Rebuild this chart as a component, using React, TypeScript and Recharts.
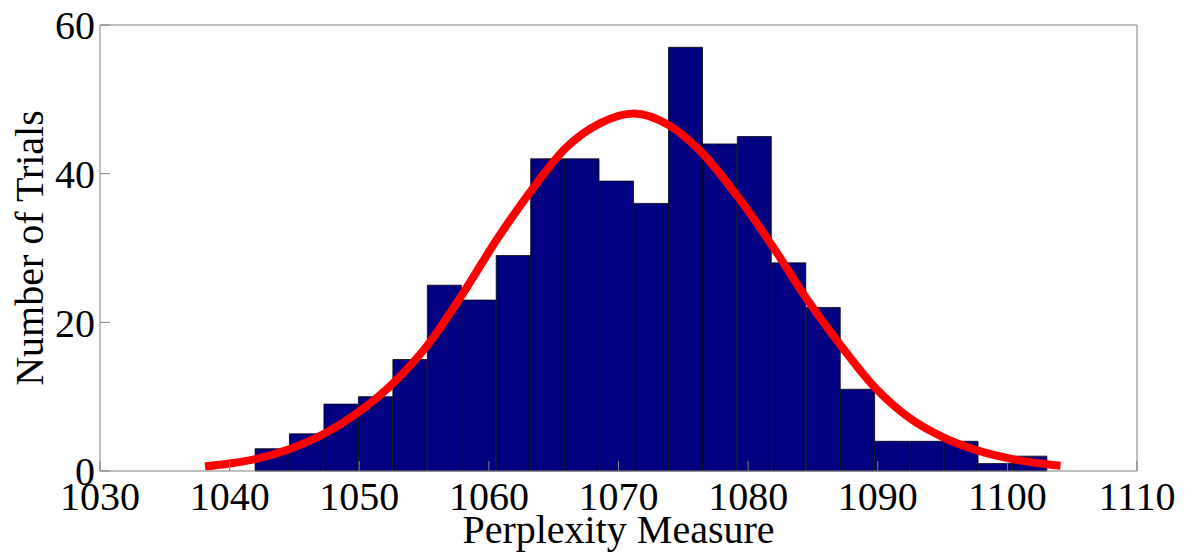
import { Bar, ComposedChart, Label, Line, XAxis, YAxis } from 'recharts';

const binCenters: number[] = [
  1043.29, 1045.94, 1048.6, 1051.26, 1053.92, 1056.58, 1059.23, 1061.89,
  1064.55, 1067.2, 1069.86, 1072.52, 1075.18, 1077.83, 1080.49, 1083.15,
  1085.81, 1088.46, 1091.12, 1093.78, 1096.44, 1099.09, 1101.75,
];
const binCounts: number[] = [
  3, 5, 9, 10, 15, 25, 23, 29, 42, 42, 39, 36, 57, 44, 45, 28, 22, 11, 4, 4, 4,
  1, 2,
];

// red fitted curve, sampled along the line in the picture
const curveX: number[] = [
  1038.1, 1040.0, 1042.0, 1044.7, 1047.3, 1050.0, 1052.6, 1055.3, 1058.0,
  1060.6, 1063.3, 1065.9, 1068.6, 1071.2, 1073.9, 1076.5, 1079.2, 1081.9,
  1084.5, 1087.1, 1089.8, 1092.4, 1095.1, 1097.8, 1100.4, 1103.0, 1104.1,
];
const curveY: number[] = [
  0.6, 1.0, 1.6, 3.0, 5.0, 8.0, 11.8, 17.0, 23.9, 31.1, 37.8, 43.4, 46.8, 48.1,
  46.5, 42.7, 36.9, 30.2, 23.2, 17.0, 11.2, 7.2, 4.5, 2.7, 1.6, 0.9, 0.7,
];

const xTicks: number[] = [1030, 1040, 1050, 1060, 1070, 1080, 1090, 1100, 1110];
const yTicks: number[] = [0, 20, 40, 60];

const bins = binCenters.map((center, i) => ({ center, count: binCounts[i] }));
const curve = curveX.map((x, i) => ({ x, y: curveY[i] }));

const FONT = '"Liberation Serif", "Times New Roman", serif';
const AXIS_COLOR = '#808080';
const tickStyle = { fontFamily: FONT, fontSize: 40, fill: '#000' };
const noLabel = () => '';

function YTitle({ viewBox }: any) {
  const cx = viewBox.x + 43;
  const cy = viewBox.y + viewBox.height / 2;
  return (
    <text
      x={cx}
      y={cy}
      transform={`rotate(-90 ${cx} ${cy})`}
      textAnchor="middle"
      fontFamily={FONT}
      fontSize={40}
      fill="#000"
    >
      Number of Trials
    </text>
  );
}

export default function App() {
  return (
    <div style={{ position: 'absolute', left: 0, top: 0, background: '#fff' }}>
      <ComposedChart
        width={1195}
        height={556}
        data={bins}
        margin={{ top: 0, right: 0, bottom: 0, left: 0 }}
        barCategoryGap={0}
        barGap={0}
      >
        <XAxis
          xAxisId="bins"
          dataKey="center"
          type="number"
          domain={[1030, 1110]}
          ticks={xTicks}
          interval={0}
          height={85}
          tickSize={-10}
          tickMargin={21}
          stroke={AXIS_COLOR}
          tick={tickStyle}
          allowDataOverflow
        >
          <Label
            value="Perplexity Measure"
            position="insideBottom"
            offset={13}
            fontFamily={FONT}
            fontSize={40}
            fill="#000"
          />
        </XAxis>
        <XAxis
          xAxisId="curve"
          dataKey="x"
          type="number"
          domain={[1030, 1110]}
          allowDataOverflow
          hide
        />
        <XAxis
          xAxisId="top"
          orientation="top"
          type="number"
          domain={[1030, 1110]}
          ticks={xTicks}
          interval={0}
          height={25}
          tickSize={-10}
          tickFormatter={noLabel}
          stroke={AXIS_COLOR}
        />
        <YAxis
          yAxisId="left"
          type="number"
          domain={[0, 60]}
          ticks={yTicks}
          interval={0}
          width={100}
          tickSize={-10}
          tickMargin={15}
          stroke={AXIS_COLOR}
          tick={tickStyle}
        >
          <Label content={<YTitle />} />
        </YAxis>
        <YAxis
          yAxisId="right"
          orientation="right"
          type="number"
          domain={[0, 60]}
          ticks={yTicks}
          interval={0}
          width={58}
          tickSize={-10}
          tickFormatter={noLabel}
          stroke={AXIS_COLOR}
        />
        <Bar
          xAxisId="bins"
          yAxisId="left"
          dataKey="count"
          fill="#000080"
          stroke="#000"
          strokeWidth={0.75}
          isAnimationActive={false}
        />
        <Line
          xAxisId="curve"
          yAxisId="left"
          data={curve}
          dataKey="y"
          type="monotone"
          stroke="#ff0000"
          strokeWidth={8}
          dot={false}
          isAnimationActive={false}
        />
      </ComposedChart>
    </div>
  );
}
